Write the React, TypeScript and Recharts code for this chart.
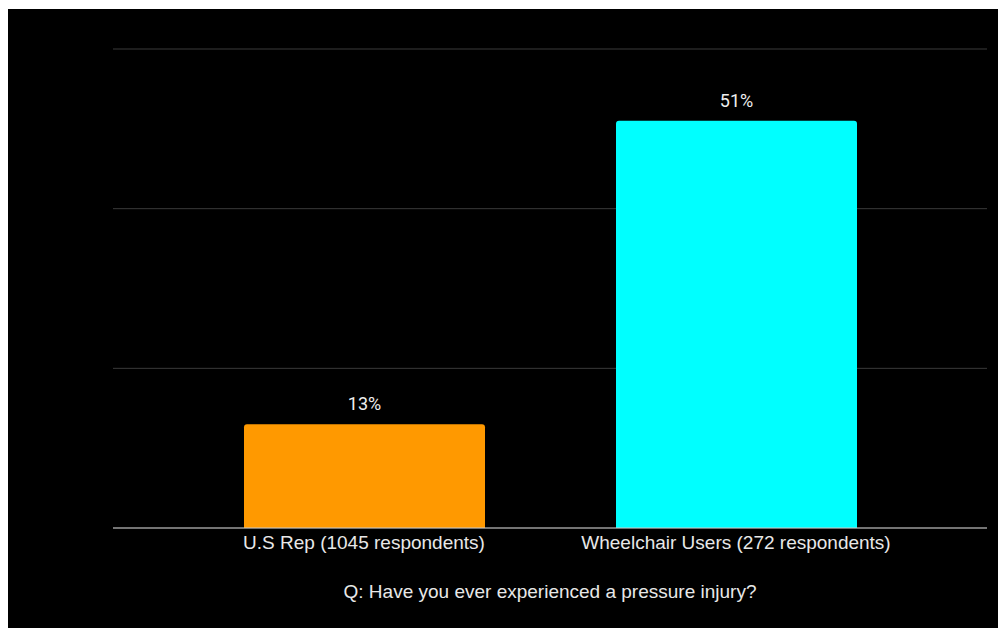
import { BarChart, Bar, XAxis, YAxis, CartesianGrid, LabelList, Label, Cell } from 'recharts';

const categories = ['U.S Rep (1045 respondents)', 'Wheelchair Users (272 respondents)'];
const values = [13, 51];
const colors = ['#FF9900', '#00FFFF'];
const yTicks = [0, 20, 40, 60];
const question = 'Q: Have you ever experienced a pressure injury?';

const data = categories.map((name, i) => ({ name, value: values[i] }));

export default function App() {
  return (
    <div style={{ width: 998, height: 620, background: '#000', position: 'relative', top: 1 }}>
      <BarChart
        width={998}
        height={620}
        data={data}
        margin={{ top: 40, right: 19, left: 105, bottom: 0 }}
      >
        <CartesianGrid vertical={false} stroke="#3a3a3a" />
        <YAxis hide domain={[0, 60]} ticks={yTicks} />
        <XAxis
          dataKey="name"
          height={101}
          padding={{ left: 65, right: 65 }}
          tickLine={false}
          tickSize={6}
          tickMargin={2}
          stroke="#cccccc"
          tick={{ fill: '#e8e8e8', fontSize: 19, fontFamily: 'Liberation Sans, Arial, sans-serif' }}
        >
          <Label
            value={question}
            position="insideBottom"
            offset={31}
            fill="#e8e8e8"
            fontSize={19}
            fontFamily="Liberation Sans, Arial, sans-serif"
          />
        </XAxis>
        <Bar dataKey="value" barSize={241} radius={[3, 3, 0, 0]} isAnimationActive={false}>
          {data.map((d, i) => (
            <Cell key={d.name} fill={colors[i]} />
          ))}
          <LabelList
            dataKey="value"
            position="top"
            offset={14}
            formatter={(v: any) => `${v}%`}
            fill="#eeeeee"
            fontSize={18}
            fontFamily="Roboto, sans-serif"
          />
        </Bar>
      </BarChart>
    </div>
  );
}
